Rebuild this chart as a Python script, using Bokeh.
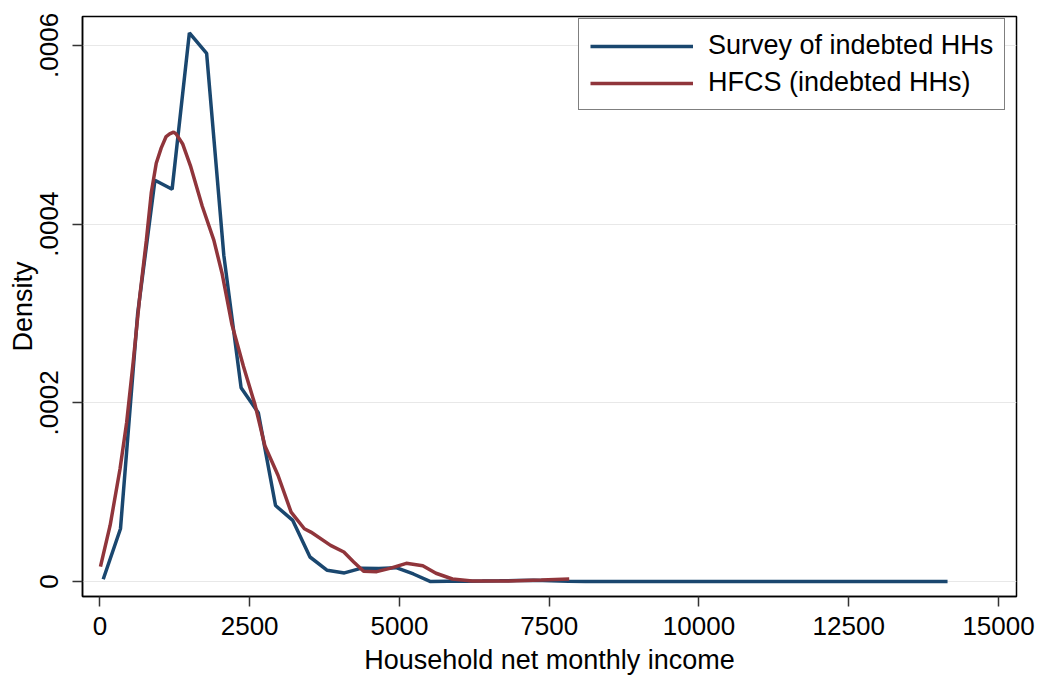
from bokeh.plotting import figure
from bokeh.models import FixedTicker, CustomJSTickFormatter, Range1d, Legend, LegendItem
from bokeh.embed import file_html
from bokeh.resources import INLINE

# Survey of indebted HHs (kernel density)
blue_x = [56, 344, 631, 919, 1206, 1494, 1782, 2069, 2357, 2644,
          2932, 3220, 3507, 3795, 4082, 4370, 4658, 4945, 5233, 5520,
          5808, 6096, 6383, 6671, 6958, 7246, 7534, 7821, 8109, 8397,
          8684, 8972, 9259, 9547, 9835, 10122, 10410, 10698, 10985, 11273,
          11560, 11848, 12136, 12423, 12711, 12999, 13286, 13574, 13861, 14149]
blue_y = [0.0000026, 0.0000591, 0.000300, 0.000449, 0.000439, 0.000614, 0.000591, 0.000365, 0.000217, 0.000189,
          0.0000851, 0.0000684, 0.0000275, 0.0000126, 0.0000097, 0.0000150, 0.0000145, 0.0000155, 0.0000085, 0.0,
          0.0000003, 0.0000005, 0.0000006, 0.0000008, 0.0000012, 0.0000015, 0.0000010, 0.0000003, 0.0, 0.0,
          0.0, 0.0, 0.0, 0.0, 0.0, 0.0, 0.0, 0.0, 0.0, 0.0,
          0.0, 0.0, 0.0, 0.0, 0.0, 0.0, 0.0, 0.0, 0.0, 0.0]

# HFCS (indebted HHs)
red_x = [10, 171, 336, 447, 555, 666, 776, 858, 941, 1023,
         1106, 1165, 1231, 1271, 1380, 1518, 1709, 1902, 2039, 2203,
         2396, 2589, 2754, 2973, 3192, 3413, 3522, 3851, 4072, 4237,
         4402, 4621, 4840, 5115, 5390, 5610, 5885, 6214, 6818, 7368, 7834]
red_y = [0.0000167, 0.0000628, 0.000126, 0.000178, 0.000245, 0.000319, 0.000382, 0.000435, 0.000468, 0.000485,
         0.000498, 0.000501, 0.000503, 0.000501, 0.000490, 0.000464, 0.000420, 0.000382, 0.000345, 0.000288,
         0.000241, 0.000198, 0.000152, 0.000119, 0.0000777, 0.0000591, 0.0000554, 0.0000405, 0.0000331, 0.0000220,
         0.0000115, 0.0000111, 0.0000148, 0.0000204, 0.0000178, 0.0000093, 0.0000029, 0.0000007, 0.0000007, 0.0000018, 0.0000029]

series_names = ["Survey of indebted HHs", "HFCS (indebted HHs)"]
x_ticks = [0, 2500, 5000, 7500, 10000, 12500, 15000]
y_ticks = [0, 0.0002, 0.0004, 0.0006]
y_tick_labels = ["0", ".0002", ".0004", ".0006"]
x_title = "Household net monthly income"
y_title = "Density"

FONT = "Liberation Sans"

p = figure(width=1035, height=677, output_backend="svg", toolbar_location=None,
           x_range=Range1d(-290, 15300), y_range=Range1d(-0.0000167, 0.0006323),
           min_border_left=82, min_border_right=19, min_border_top=16, min_border_bottom=79)
p.background_fill_color = "white"
p.border_fill_color = "white"
p.outline_line_color = "black"
p.outline_line_width = 1.5

r1 = p.line(blue_x, blue_y, line_color="#1a476f", line_width=3.5)
r2 = p.line(red_x, red_y, line_color="#90353b", line_width=3.5)

p.xgrid.visible = False
p.ygrid.grid_line_color = "#e8e8e8"
p.ygrid.grid_line_width = 1.2
p.ygrid.ticker = FixedTicker(ticks=y_ticks)

p.xaxis.ticker = FixedTicker(ticks=x_ticks)
p.yaxis.ticker = FixedTicker(ticks=y_ticks)
p.yaxis.formatter = CustomJSTickFormatter(args=dict(vals=y_ticks, labs=y_tick_labels), code="""
for (let i = 0; i < vals.length; i++) { if (Math.abs(vals[i] - tick) < 1e-9) return labs[i]; }
return '';
""")
p.yaxis.major_label_orientation = "vertical"

for ax in (p.xaxis, p.yaxis):
    ax.axis_line_color = "black"
    ax.axis_line_width = 1.5
    ax.major_tick_line_color = "#333333"
    ax.major_tick_line_width = 1.5
    ax.major_tick_in = 0
    ax.major_tick_out = 10
    ax.minor_tick_line_color = None
    ax.major_label_text_font = FONT
    ax.major_label_text_font_size = "26px"
    ax.major_label_text_color = "black"
    ax.axis_label_text_font = FONT
    ax.axis_label_text_font_size = "27px"
    ax.axis_label_text_font_style = "normal"
    ax.axis_label_text_color = "black"

p.xaxis.axis_label = x_title
p.yaxis.axis_label = y_title
p.xaxis.major_label_standoff = 10
p.xaxis.axis_label_standoff = 7
p.yaxis.major_label_standoff = 14
p.yaxis.axis_label_standoff = 0

legend = Legend(items=[LegendItem(label=series_names[0], renderers=[r1]),
                       LegendItem(label=series_names[1], renderers=[r2])],
                location=(496, 486))
legend.margin = 0
legend.padding = 11
legend.spacing = 6
legend.glyph_width = 103
legend.glyph_height = 28
legend.label_standoff = 15
legend.label_width = 285
legend.label_text_font = FONT
legend.label_text_font_size = "27px"
legend.label_text_color = "black"
legend.border_line_color = "black"
legend.border_line_width = 1.2
legend.background_fill_color = "white"
legend.background_fill_alpha = 1.0
p.add_layout(legend)

open("out.html", "w").write(file_html(p, INLINE))
